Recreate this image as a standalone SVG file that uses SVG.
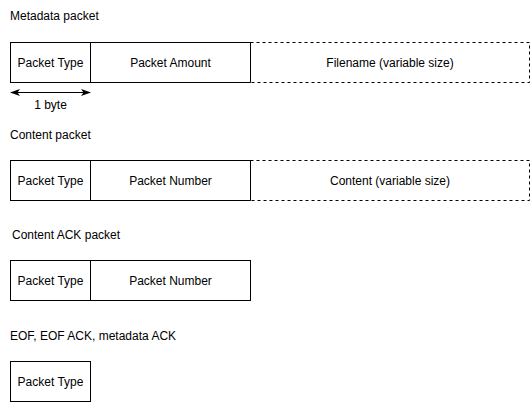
<svg xmlns="http://www.w3.org/2000/svg" width="531" height="403" viewBox="0 0 531 403">
<style>
  text { font-family: "Liberation Sans", Arial, sans-serif; font-size: 12px; fill: #000; }
  .c { text-anchor: middle; dominant-baseline: central; }
  .cell { fill: #fff; stroke: #000; stroke-width: 1; }
  .dash { fill: #fff; stroke: #000; stroke-width: 1; stroke-dasharray: 3 3; }
</style>
<defs>
  <marker id="ah" viewBox="0 0 10 10" refX="9" refY="5" markerWidth="10" markerHeight="9" orient="auto-start-reverse" markerUnits="userSpaceOnUse" preserveAspectRatio="none">
    <path d="M0,1 L10,5 L0,9 L2.5,5 Z" fill="#000"/>
  </marker>
</defs>
<rect width="531" height="403" fill="#fff"/>

<g id="title-metadata"><text x="10" y="20">Metadata packet</text></g>
<g id="meta-type"><rect class="cell" x="10.5" y="42.5" width="80" height="40"/><text class="c" x="50.5" y="62.5">Packet Type</text></g>
<g id="meta-amount"><rect class="cell" x="90.5" y="42.5" width="160" height="40"/><text class="c" x="170.5" y="62.5">Packet Amount</text></g>
<g id="meta-filename"><rect class="dash" x="250.5" y="42.5" width="279" height="40"/><line x1="250.5" y1="42.5" x2="250.5" y2="82.5" stroke="#000"/><text class="c" x="390" y="62.5">Filename (variable size)</text></g>

<g id="connectors">
  <line x1="11" y1="92.5" x2="90" y2="92.5" stroke="#000" stroke-width="1" marker-start="url(#ah)" marker-end="url(#ah)"/>
</g>
<g id="label-byte"><text class="c" x="50.5" y="104.5">1 byte</text></g>

<g id="title-content"><text x="10" y="139">Content packet</text></g>
<g id="content-type"><rect class="cell" x="10.5" y="160.5" width="80" height="40"/><text class="c" x="50.5" y="180.5">Packet Type</text></g>
<g id="content-number"><rect class="cell" x="90.5" y="160.5" width="160" height="40"/><text class="c" x="170.5" y="180.5">Packet Number</text></g>
<g id="content-data"><rect class="dash" x="250.5" y="160.5" width="279" height="40"/><line x1="250.5" y1="160.5" x2="250.5" y2="200.5" stroke="#000"/><text class="c" x="390" y="180.5">Content (variable size)</text></g>

<g id="title-ack"><text x="12" y="239">Content ACK packet</text></g>
<g id="ack-type"><rect class="cell" x="10.5" y="260.5" width="80" height="40"/><text class="c" x="50.5" y="280.5">Packet Type</text></g>
<g id="ack-number"><rect class="cell" x="90.5" y="260.5" width="160" height="40"/><text class="c" x="170.5" y="280.5">Packet Number</text></g>

<g id="title-eof"><text x="10" y="340">EOF, EOF ACK, metadata ACK</text></g>
<g id="eof-type"><rect class="cell" x="10.5" y="361.5" width="80" height="40"/><text class="c" x="50.5" y="381.5">Packet Type</text></g>
</svg>
